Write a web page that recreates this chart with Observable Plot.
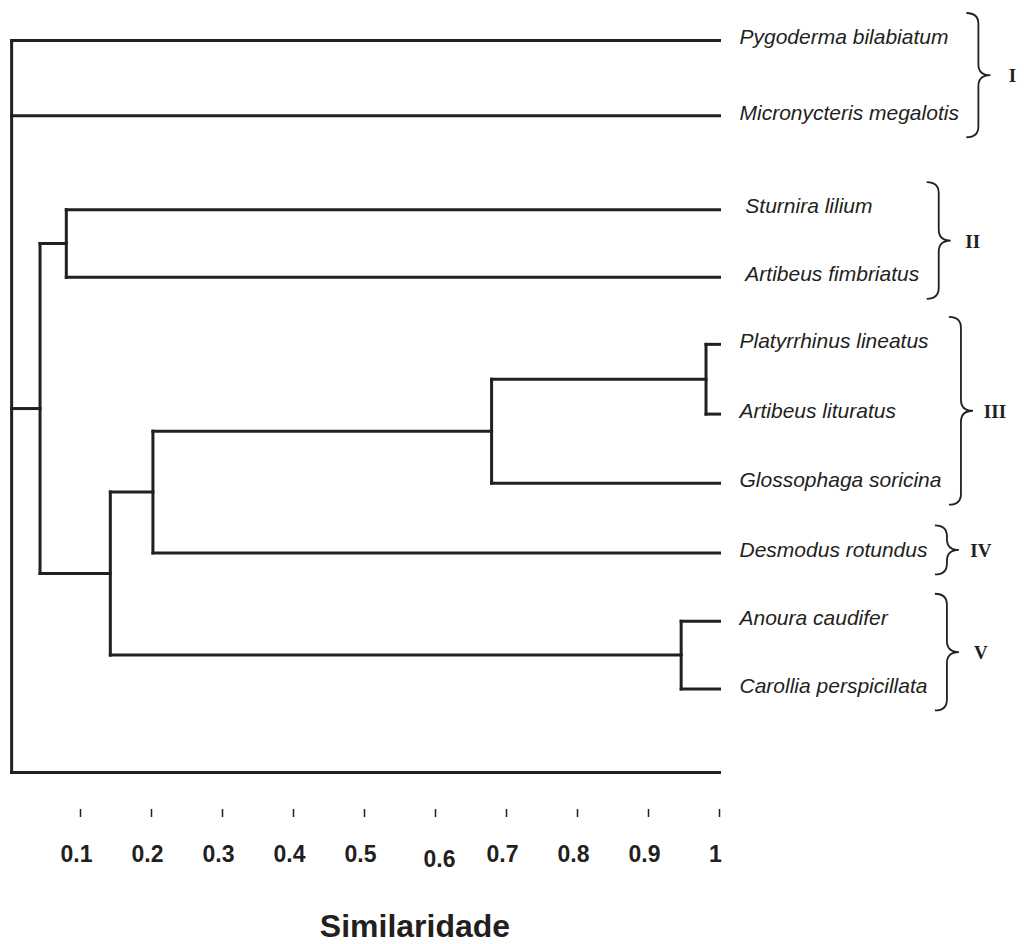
<!DOCTYPE html>
<html>
<head>
<meta charset="utf-8">
<script src="https://cdn.jsdelivr.net/npm/d3@7"></script>
<script src="https://cdn.jsdelivr.net/npm/@observablehq/plot@0.6"></script>
<style>
  html, body { margin: 0; padding: 0; background: #fff; }
  #wrap { position: relative; width: 1032px; height: 944px; }
  #xlabel { position: absolute; left: 415px; top: 910px; transform: translateX(-50%);
    font: bold 32px "Liberation Sans", Arial, sans-serif; line-height: 32px; color: #231f20; white-space: nowrap; }
</style>
</head>
<body>
<div id="wrap"><div id="chart"></div><div id="xlabel">Similaridade</div></div>
<script>
// ---- data ----
const leaves = [
  "Pygoderma bilabiatum",
  "Micronycteris megalotis",
  "\u00a0Sturnira lilium",
  "\u00a0Artibeus fimbriatus",
  "Platyrrhinus lineatus",
  "Artibeus lituratus",
  "Glossophaga soricina",
  "Desmodus rotundus",
  "Anoura caudifer",
  "Carollia perspicillata",
  ""
];
// leaf order position (rows, as drawn)
const leafRow = [0, 1.09, 2.45, 3.43, 4.40, 5.41, 6.41, 7.42, 8.41, 9.39, 10.6];
// merges: children (leaf ids 0..10, new nodes numbered from 11) and similarity level
const mergeChildren = [[4, 5], [11, 6], [12, 7], [8, 9], [13, 14], [2, 3], [16, 15], [0, 1, 17, 10]];
const mergeHeight = [0.981, 0.679, 0.202, 0.946, 0.142, 0.080, 0.043, 0.003];
// groups
const groupNames = ["I", "II", "III", "IV", "V"];
const groupFirst = [0, 2, 4, 7, 8];
const groupLast = [1, 3, 6, 7, 9];
// axis ticks
const tickValues = [0.1, 0.2, 0.3, 0.4, 0.5, 0.6, 0.7, 0.8, 0.9, 1];

// ---- build tree segments ----
const ink = "#231f20";
const nodeX = leaves.map(() => 1);
const nodeY = leafRow.slice();
const segs = [];
mergeChildren.forEach((ch, k) => {
  const h = mergeHeight[k];
  const ys = ch.map(c => nodeY[c]);
  const lo = d3.min(ys), hi = d3.max(ys);
  segs.push({x1: h, x2: h, y1: lo, y2: hi});
  ch.forEach(c => segs.push({x1: h, x2: nodeX[c], y1: nodeY[c], y2: nodeY[c]}));
  nodeX.push(h);
  nodeY.push((lo + hi) / 2);
});

const labelFont = "Liberation Sans, Arial, sans-serif";
const labelDx = 20;

function braces(index, scales) {
  const ns = "http://www.w3.org/2000/svg";
  const g = document.createElementNS(ns, "g");
  const ctx = document.createElement("canvas").getContext("2d");
  ctx.font = "italic 21px 'Liberation Sans'";
  const labelX = scales.x(1) + labelDx;
  groupNames.forEach((name, k) => {
    const members = d3.range(groupFirst[k], groupLast[k] + 1);
    const w = d3.max(members, i => ctx.measureText(leaves[i]).width);
    const x0 = labelX + w + 8;
    const top = scales.y(leafRow[groupFirst[k]]) - 27;
    const bot = scales.y(leafRow[groupLast[k]]) + 22;
    const mid = (top + bot) / 2;
    const bw = 24, r = Math.min(11, (bot - top) / 4), xs = x0 + bw / 2;
    const p = document.createElementNS(ns, "path");
    p.setAttribute("d",
      `M${x0},${top} Q${xs},${top} ${xs},${top + r} L${xs},${mid - r} Q${xs},${mid} ${x0 + bw},${mid} ` +
      `Q${xs},${mid} ${xs},${mid + r} L${xs},${bot - r} Q${xs},${bot} ${x0},${bot}`);
    p.setAttribute("fill", "none");
    p.setAttribute("stroke", ink);
    p.setAttribute("stroke-width", "1.8");
    g.appendChild(p);
    const t = document.createElementNS(ns, "text");
    t.setAttribute("x", x0 + bw + 22);
    t.setAttribute("y", mid + 7);
    t.setAttribute("font-family", "Liberation Serif, Times New Roman, serif");
    t.setAttribute("font-weight", "bold");
    t.setAttribute("font-size", "19");
    t.setAttribute("fill", ink);
    t.textContent = name;
    g.appendChild(t);
  });
  return g;
}

const fmt = d => d === 1 ? "1" : d.toFixed(1);
const tickText = {
  x: d => d, text: fmt, frameAnchor: "bottom", lineAnchor: "top",
  fontSize: 23, fontWeight: "bold", fontFamily: labelFont, fill: ink
};

const chart = Plot.plot({
  width: 1032,
  height: 890,
  marginTop: 0,
  marginLeft: 0,
  marginRight: 0,
  marginBottom: 81,
  style: {background: "white", fontFamily: labelFont},
  x: {domain: [0, 1], range: [9, 719]},
  y: {domain: [0, 10.6], range: [40, 772], axis: null},
  marks: [
    Plot.link(segs, {x1: "x1", y1: "y1", x2: "x2", y2: "y2", stroke: ink, strokeWidth: 3, strokeLinecap: "square"}),
    Plot.text(d3.range(leaves.length), {
      x: () => 1, y: i => leafRow[i], text: i => leaves[i],
      textAnchor: "start", dx: labelDx, dy: -3,
      fontStyle: "italic", fontSize: 21, fontFamily: labelFont, fill: ink
    }),
    braces,
    Plot.axisX(tickValues, {tickSize: 8, fill: "none", stroke: ink, strokeWidth: 1.5, tickFormat: () => ""}),
    Plot.text(tickValues.filter(d => d !== 0.6), {...tickText, dx: -4, dy: 36}),
    Plot.text([0.6], {...tickText, dx: 4, dy: 41})
  ]
});
document.getElementById("chart").appendChild(chart);
</script>
</body>
</html>
